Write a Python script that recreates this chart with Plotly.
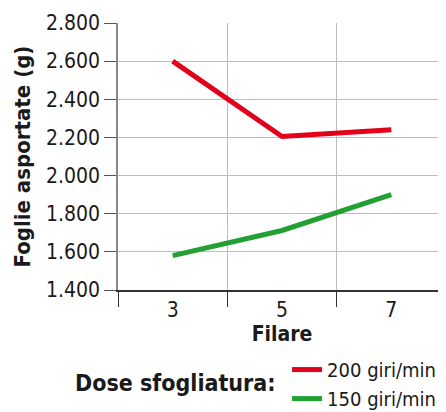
import plotly.graph_objects as go

filare = [3, 5, 7]
rpm_200 = [2600, 2205, 2240]
rpm_150 = [1580, 1712, 1900]
y_ticks = [1400, 1600, 1800, 2000, 2200, 2400, 2600, 2800]
y_labels = ["1.400", "1.600", "1.800", "2.000", "2.200", "2.400", "2.600", "2.800"]
x_bounds = [2, 4, 6]

FONT = "DejaVu Sans Condensed, Liberation Sans"

fig = go.Figure()
fig.add_trace(go.Scatter(x=filare, y=rpm_200, mode="lines", name="200 giri/min",
                         line=dict(color="#e2001a", width=5)))
fig.add_trace(go.Scatter(x=filare, y=rpm_150, mode="lines", name="150 giri/min",
                         line=dict(color="#22a033", width=5)))

fig.add_annotation(text="<b>Dose sfogliatura:</b>", xref="paper", yref="paper",
                   x=0.174, y=-0.35, xanchor="center", yanchor="middle",
                   showarrow=False, font=dict(size=23, family=FONT, color="#1a1a1a"))

fig.update_layout(
    width=438, height=404,
    margin=dict(l=110, r=0, t=15, b=122, autoexpand=False),
    plot_bgcolor="white", paper_bgcolor="white",
    font=dict(family=FONT, color="#1a1a1a"),
    showlegend=True,
    legend=dict(
        orientation="v", x=0.985, xanchor="right", y=-0.225, yanchor="top",
        font=dict(size=20, family=FONT), tracegroupgap=0, itemwidth=30,
        bgcolor="rgba(0,0,0,0)", borderwidth=0,
    ),
    xaxis=dict(
        range=[2, 8], tickvals=filare, ticktext=[str(v) for v in filare],
        ticks="", showgrid=False, showline=True, linecolor="#333", linewidth=1.5,
        tickfont=dict(size=21), zeroline=False, automargin=False,
        title=dict(text="<b>Filare</b>", font=dict(size=21), standoff=0),
        minor=dict(tickvals=x_bounds, ticks="outside", ticklen=15, tickcolor="#333",
                   showgrid=True, gridcolor="#bdbdbd", gridwidth=1),
    ),
    yaxis=dict(
        range=[1400, 2800], tickvals=y_ticks, ticktext=y_labels,
        ticks="outside", ticklen=12, tickcolor="#555",
        showgrid=True, gridcolor="#bdbdbd", gridwidth=1,
        showline=True, linecolor="#888", linewidth=1.5, zeroline=False,
        tickfont=dict(size=21), automargin=False,
        title=dict(text="<b>Foglie asportate (g)</b>", font=dict(size=22), standoff=9),
    ),
)

fig.write_html("out.html")
